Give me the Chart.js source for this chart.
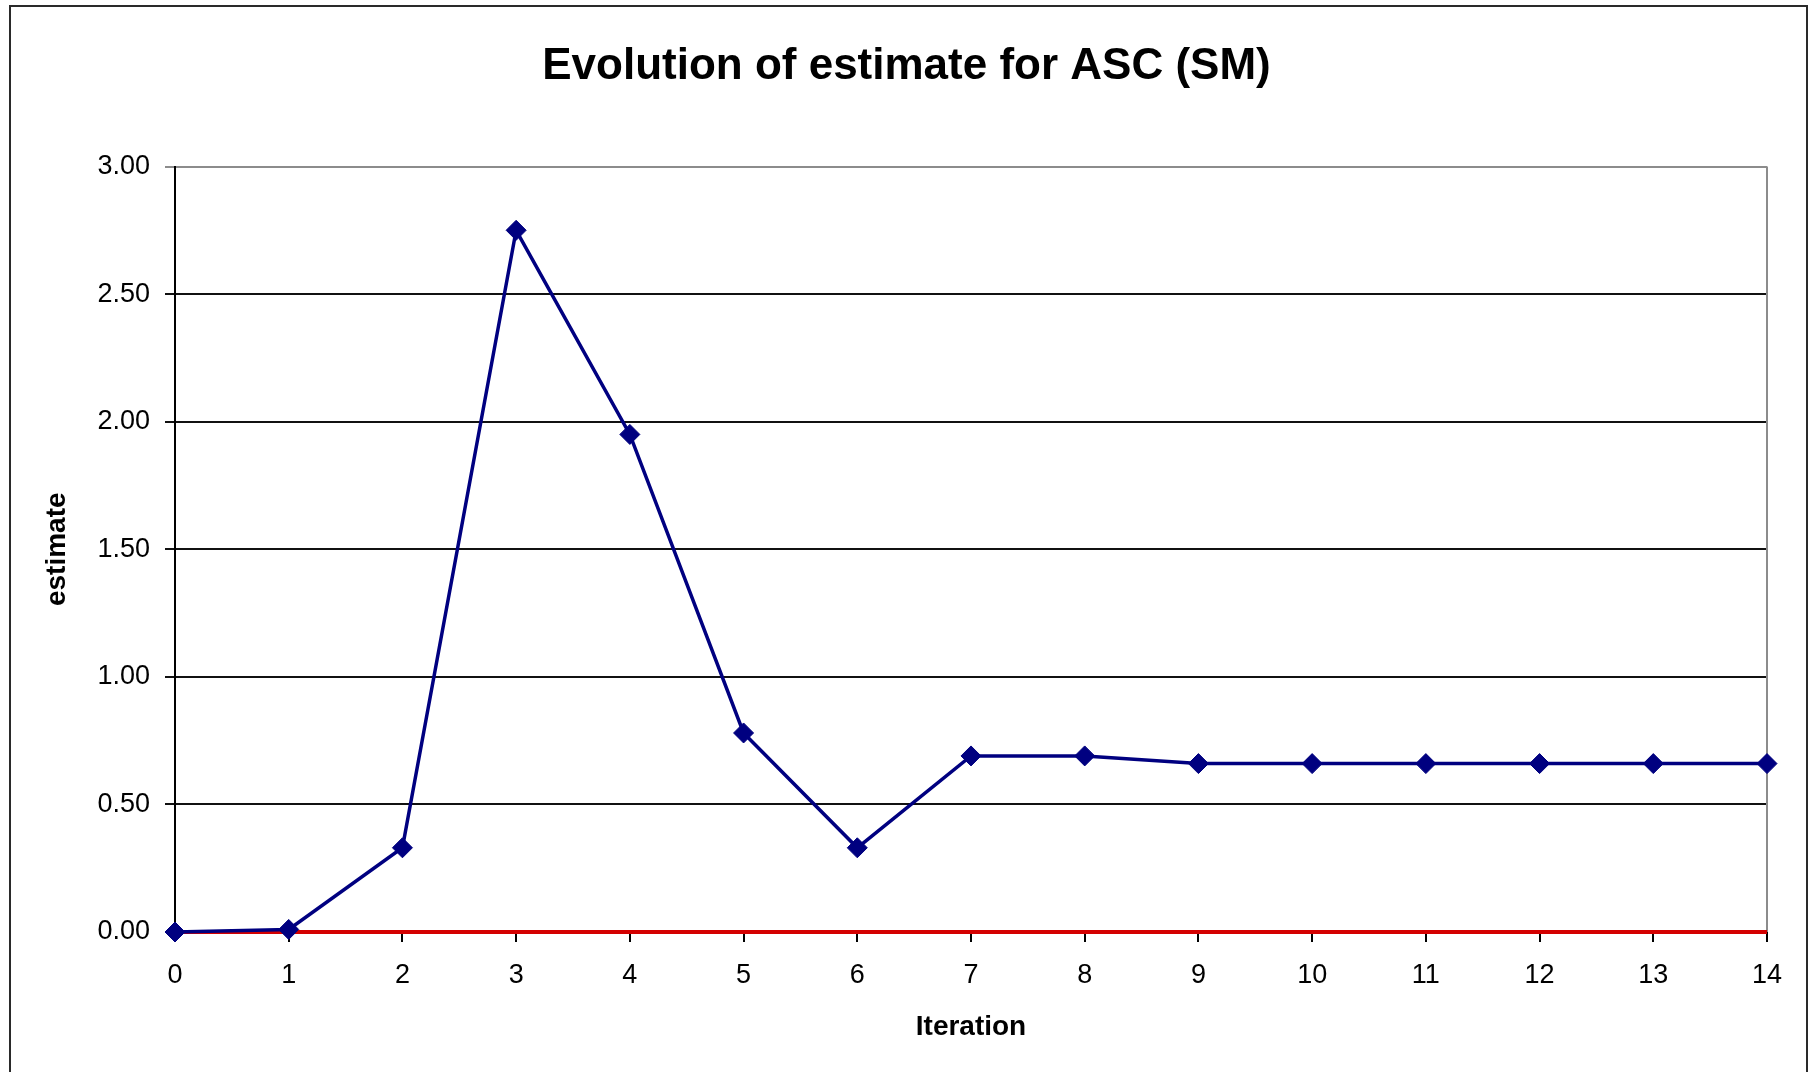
<!DOCTYPE html>
<html>
<head>
<meta charset="utf-8">
<script src="https://cdn.jsdelivr.net/npm/chart.js@4/dist/chart.umd.min.js"></script>
<style>
  html, body { margin: 0; padding: 0; background: #fff; }
  #chart { display: block; }
</style>
</head>
<body>
<canvas id="chart" width="1813" height="1072"></canvas>
<script>
const iterations = ['0', '1', '2', '3', '4', '5', '6', '7', '8', '9', '10', '11', '12', '13', '14'];
const estimate = [0.00, 0.01, 0.33, 2.75, 1.95, 0.78, 0.33, 0.69, 0.69, 0.66, 0.66, 0.66, 0.66, 0.66, 0.66];
const zeroLine = [0, 0, 0, 0, 0, 0, 0, 0, 0, 0, 0, 0, 0, 0, 0];
const yTicks = [0, 0.5, 1, 1.5, 2, 2.5, 3];

const font = '"Liberation Sans", Arial, sans-serif';

// white page, outer frame and plot-area frame
const frame = {
    id: 'frame',
    beforeDraw(chart) {
        const { ctx } = chart;
        ctx.save();
        ctx.fillStyle = '#fff';
        ctx.fillRect(0, 0, chart.width, chart.height);
        ctx.strokeStyle = '#2a2a2a';
        ctx.lineWidth = 2;
        ctx.strokeRect(10, 6, 1797, 1100);
        ctx.restore();
    },
    beforeDatasetsDraw(chart) {
        const { ctx, chartArea: a } = chart;
        ctx.save();
        ctx.strokeStyle = '#8c8c8c';
        ctx.lineWidth = 2;
        ctx.beginPath();
        ctx.moveTo(a.right, a.top);
        ctx.lineTo(a.right, a.bottom);
        ctx.stroke();
        ctx.restore();
    }
};

new Chart(document.getElementById('chart'), {
    type: 'line',
    data: {
        labels: iterations,
        datasets: [
            {
                label: 'estimate',
                data: estimate,
                borderColor: '#000080',
                backgroundColor: '#000080',
                borderWidth: 3.5,
                pointStyle: 'rectRot',
                pointRadius: 10,
                pointHoverRadius: 10,
                pointBorderWidth: 1,
                pointBorderColor: '#000080',
                tension: 0,
                clip: false
            },
            {
                label: 'zero',
                data: zeroLine,
                borderColor: '#d40000',
                borderWidth: 4,
                pointRadius: 0,
                tension: 0,
                clip: false
            }
        ]
    },
    plugins: [frame],
    options: {
        responsive: false,
        animation: false,
        devicePixelRatio: 1,
        layout: { padding: 0 },
        plugins: {
            legend: { display: false },
            tooltip: { enabled: false },
            title: {
                display: true,
                text: 'Evolution of estimate for ASC (SM)',
                color: '#000',
                font: { family: font, size: 44, weight: 'bold' },
                padding: { top: 40, bottom: 73.7 }
            }
        },
        scales: {
            x: {
                grid: {
                    drawOnChartArea: false,
                    drawTicks: true,
                    tickLength: 10,
                    color: '#000',
                    lineWidth: 2
                },
                border: { display: true, color: '#000', width: 2 },
                ticks: {
                    color: '#000',
                    font: { family: font, size: 27 },
                    padding: 17,
                    maxRotation: 0,
                    autoSkip: false
                },
                title: {
                    display: true,
                    text: 'Iteration',
                    color: '#000',
                    font: { family: font, size: 28, weight: 'bold' },
                    padding: { top: 0, bottom: 28 }
                },
                afterFit: s => { s.height = 140; }
            },
            y: {
                min: 0,
                max: 3,
                afterBuildTicks: s => { s.ticks = yTicks.map(v => ({ value: v })); },
                grid: {
                    color: c => (c.tick && c.tick.value === 3 ? '#8c8c8c' : '#111'),
                    lineWidth: 2,
                    tickLength: 10
                },
                border: { display: true, color: '#000', width: 2 },
                ticks: {
                    color: '#000',
                    font: { family: font, size: 27 },
                    padding: 15,
                    callback: v => Number(v).toFixed(2)
                },
                title: {
                    display: true,
                    text: 'estimate',
                    color: '#000',
                    font: { family: font, size: 28, weight: 'bold' },
                    padding: { top: 40, bottom: 0 }
                },
                afterFit: s => { s.width = 175; }
            },
            y2: {
                position: 'right',
                display: true,
                grid: { display: false },
                border: { display: false },
                ticks: { display: false },
                afterFit: s => { s.width = 46; }
            }
        }
    }
});
</script>
</body>
</html>
